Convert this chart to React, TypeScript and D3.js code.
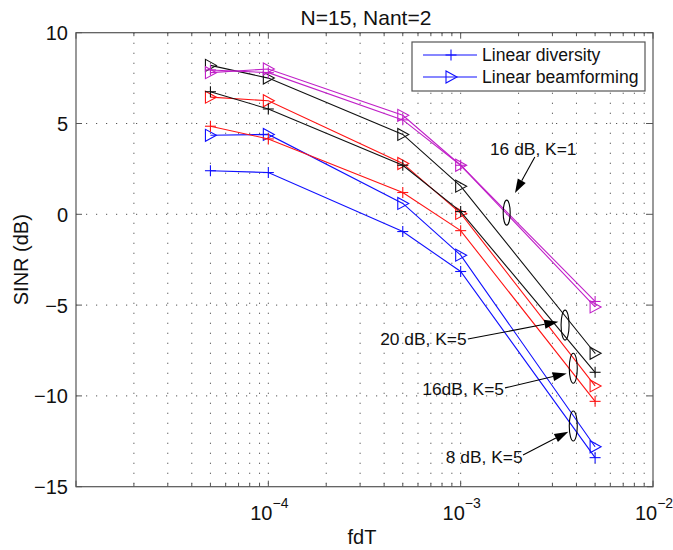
import React from 'react';
import * as d3 from 'd3';

// ---- data ----
const fdT = [5e-5, 1e-4, 5e-4, 1e-3, 5e-3];
const div8 = [2.4, 2.3, -0.95, -3.15, -13.4];
const bf8 = [4.35, 4.4, 0.6, -2.25, -12.8];
const div16 = [4.85, 4.15, 1.2, -0.9, -10.3];
const bf16 = [6.45, 6.25, 2.8, 0.05, -9.45];
const div20 = [6.75, 5.8, 2.7, 0.15, -8.7];
const bf20 = [8.2, 7.5, 4.4, 1.55, -7.65];
const div16k1 = [7.95, 7.8, 5.2, 2.7, -4.8];
const bf16k1 = [7.8, 8.0, 5.45, 2.7, -5.1];

const yTicks = [10, 5, 0, -5, -10, -15];
const xLabelTicks = [1e-4, 1e-3, 1e-2];
const xLabelExp = ['\u22124', '\u22123', '\u22122'];
const legendLabels = ['Linear diversity', 'Linear beamforming'];

const annLabels = ['16 dB, K=1', '20 dB, K=5', '16dB, K=5', '8 dB, K=5'];
const annTextX = [1.42e-3, 1.075e-3, 1.68e-3, 2.1e-3];
const annTextY = [3.27, -7.2, -9.95, -13.68];
const annAnchor = ['start', 'end', 'end', 'end'];
const annFromX = [2.43e-3, 1.09e-3, 1.7e-3, 2.11e-3];
const annFromY = [3.16, -6.87, -9.56, -13.25];
const annTipX = [1.916e-3, 3.22e-3, 3.56e-3, 3.63e-3];
const annTipY = [1.17, -5.91, -8.76, -11.97];
const annEllX = [1.735e-3, 3.49e-3, 3.85e-3, 3.85e-3];
const annEllY = [0.09, -6.1, -8.48, -11.66];

const BLUE = '#1010ff';
const RED = '#ff1414';
const BLACK = '#111';
const MAG = '#c020c8';

const series = [
  { v: div8, c: BLUE, m: 'plus' },
  { v: bf8, c: BLUE, m: 'tri' },
  { v: div16, c: RED, m: 'plus' },
  { v: bf16, c: RED, m: 'tri' },
  { v: div20, c: BLACK, m: 'plus' },
  { v: bf20, c: BLACK, m: 'tri' },
  { v: div16k1, c: MAG, m: 'plus' },
  { v: bf16k1, c: MAG, m: 'tri' },
];

const FONT = 'Liberation Sans, Arial, Helvetica, sans-serif';

function Marker({ x, y, type, color }: { x: number; y: number; type: string; color: string }) {
  if (type === 'plus') {
    return (
      <g stroke={color} strokeWidth={1.1} fill="none">
        <line x1={x - 5.5} x2={x + 5.5} y1={y} y2={y} />
        <line x1={x} x2={x} y1={y - 5.5} y2={y + 5.5} />
      </g>
    );
  }
  return (
    <polygon
      points={`${x - 5},${y - 6} ${x - 5},${y + 6} ${x + 6},${y}`}
      fill="none"
      stroke={color}
      strokeWidth={1.1}
    />
  );
}

export default function App() {
  const left = 76, right = 653, top = 32.7, bottom = 486.7;
  const x = d3.scaleLog().domain([1e-5, 1e-2]).range([left, right]);
  const y = d3.scaleLinear().domain([-15, 10]).range([bottom, top]);

  const minor: number[] = [];
  for (let d = -5; d <= -3; d++) for (let k = 1; k <= 9; k++) minor.push(k * Math.pow(10, d));
  minor.push(1e-2);

  const line = d3
    .line<[number, number]>()
    .x((d) => x(d[0]))
    .y((d) => y(d[1]));

  const gridStyle = { stroke: '#555', strokeWidth: 1, strokeDasharray: '1.2,8.8' };

  return (
    <svg
      width={673}
      height={550}
      style={{ position: 'absolute', left: 0, top: 0, background: '#fff' }}
      fontFamily={FONT}
    >
      <rect x={0} y={0} width={673} height={550} fill="#fff" />
      {/* grid */}
      {minor
        .filter((v) => v > 1e-5 && v < 1e-2)
        .map((v, i) => (
          <line key={'gx' + i} x1={x(v)} x2={x(v)} y1={top} y2={bottom} style={gridStyle} />
        ))}
      {yTicks
        .filter((v) => v > -15 && v < 10)
        .map((v, i) => (
          <line key={'gy' + i} x1={left} x2={right} y1={y(v)} y2={y(v)} style={gridStyle} />
        ))}

      {/* ticks */}
      {minor.map((v, i) => {
        const major = Math.abs(Math.log10(v) - Math.round(Math.log10(v))) < 1e-9;
        const len = major ? 6 : 3.5;
        return (
          <g key={'tk' + i} stroke="#555" strokeWidth={1}>
            <line x1={x(v)} x2={x(v)} y1={bottom} y2={bottom - len} />
            <line x1={x(v)} x2={x(v)} y1={top} y2={top + len} />
          </g>
        );
      })}
      {yTicks.map((v, i) => (
        <g key={'yt' + i} stroke="#555" strokeWidth={1}>
          <line x1={left} x2={left + 6} y1={y(v)} y2={y(v)} />
          <line x1={right} x2={right - 6} y1={y(v)} y2={y(v)} />
        </g>
      ))}

      {/* series */}
      {series.map((s, i) => {
        const pts = fdT.map((f, j) => [f, s.v[j]] as [number, number]);
        return (
          <g key={'s' + i}>
            <path d={line(pts) || ''} fill="none" stroke={s.c} strokeWidth={1.1} />
            {pts.map((p, j) => (
              <Marker key={j} x={x(p[0])} y={y(p[1])} type={s.m} color={s.c} />
            ))}
          </g>
        );
      })}

      {/* frame */}
      <rect x={left} y={top} width={right - left} height={bottom - top} fill="none" stroke="#555" strokeWidth={1.2} />

      {/* y tick labels */}
      {yTicks.map((v, i) => (
        <text key={'yl' + i} x={68} y={y(v) + 7.5} fontSize={20} textAnchor="end" fill="#111">
          {v < 0 ? '\u2212' + Math.abs(v) : String(v)}
        </text>
      ))}
      {/* x tick labels */}
      {xLabelTicks.map((v, i) => (
        <text key={'xl' + i} x={x(v) + 1} y={520} fontSize={20} textAnchor="middle" fill="#111">
          10
          <tspan fontSize={14} dy={-12}>
            {xLabelExp[i]}
          </tspan>
        </text>
      ))}

      {/* titles */}
      <text x={366} y={25} fontSize={21} textAnchor="middle" fill="#111">
        N=15, Nant=2
      </text>
      <text x={362} y={544} fontSize={20} textAnchor="middle" fill="#111">
        fdT
      </text>
      <text
        transform={`translate(28,${(top + bottom) / 2}) rotate(-90)`}
        fontSize={20}
        textAnchor="middle"
        fill="#111"
      >
        SINR (dB)
      </text>

      {/* legend */}
      <g>
        <rect x={412} y={42} width={233} height={49} fill="#fff" stroke="#555" strokeWidth={1.2} />
        {legendLabels.map((lab, i) => {
          const ly = 55 + i * 22;
          return (
            <g key={'lg' + i}>
              <line x1={423} x2={477} y1={ly} y2={ly} stroke={BLUE} strokeWidth={1.1} />
              <Marker x={451} y={ly} type={i === 0 ? 'plus' : 'tri'} color={BLUE} />
              <text x={482} y={ly + 6} fontSize={17.6} fill="#111">
                {lab}
              </text>
            </g>
          );
        })}
      </g>

      {/* annotations */}
      {annLabels.map((lab, i) => {
        const fx = x(annFromX[i]), fy = y(annFromY[i]);
        const tx = x(annTipX[i]), ty = y(annTipY[i]);
        const dx = tx - fx, dy = ty - fy;
        const L = Math.hypot(dx, dy);
        const ux = dx / L, uy = dy / L;
        const hl = 14, hw = 4.5;
        const bx = tx - ux * hl, by = ty - uy * hl;
        const p1 = `${bx - uy * hw},${by + ux * hw}`;
        const p2 = `${bx + uy * hw},${by - ux * hw}`;
        return (
          <g key={'an' + i}>
            <text
              x={x(annTextX[i])}
              y={y(annTextY[i])}
              fontSize={17.4}
              textAnchor={annAnchor[i] as any}
              fill="#111"
            >
              {lab}
            </text>
            <line x1={fx} y1={fy} x2={bx} y2={by} stroke="#000" strokeWidth={1.1} />
            <polygon points={`${tx},${ty} ${p1} ${p2}`} fill="#000" />
            <ellipse
              cx={x(annEllX[i])}
              cy={y(annEllY[i])}
              rx={i === 0 ? 3.5 : 4}
              ry={i === 0 ? 12.5 : 15}
              fill="none"
              stroke="#000"
              strokeWidth={1.1}
            />
          </g>
        );
      })}
    </svg>
  );
}
